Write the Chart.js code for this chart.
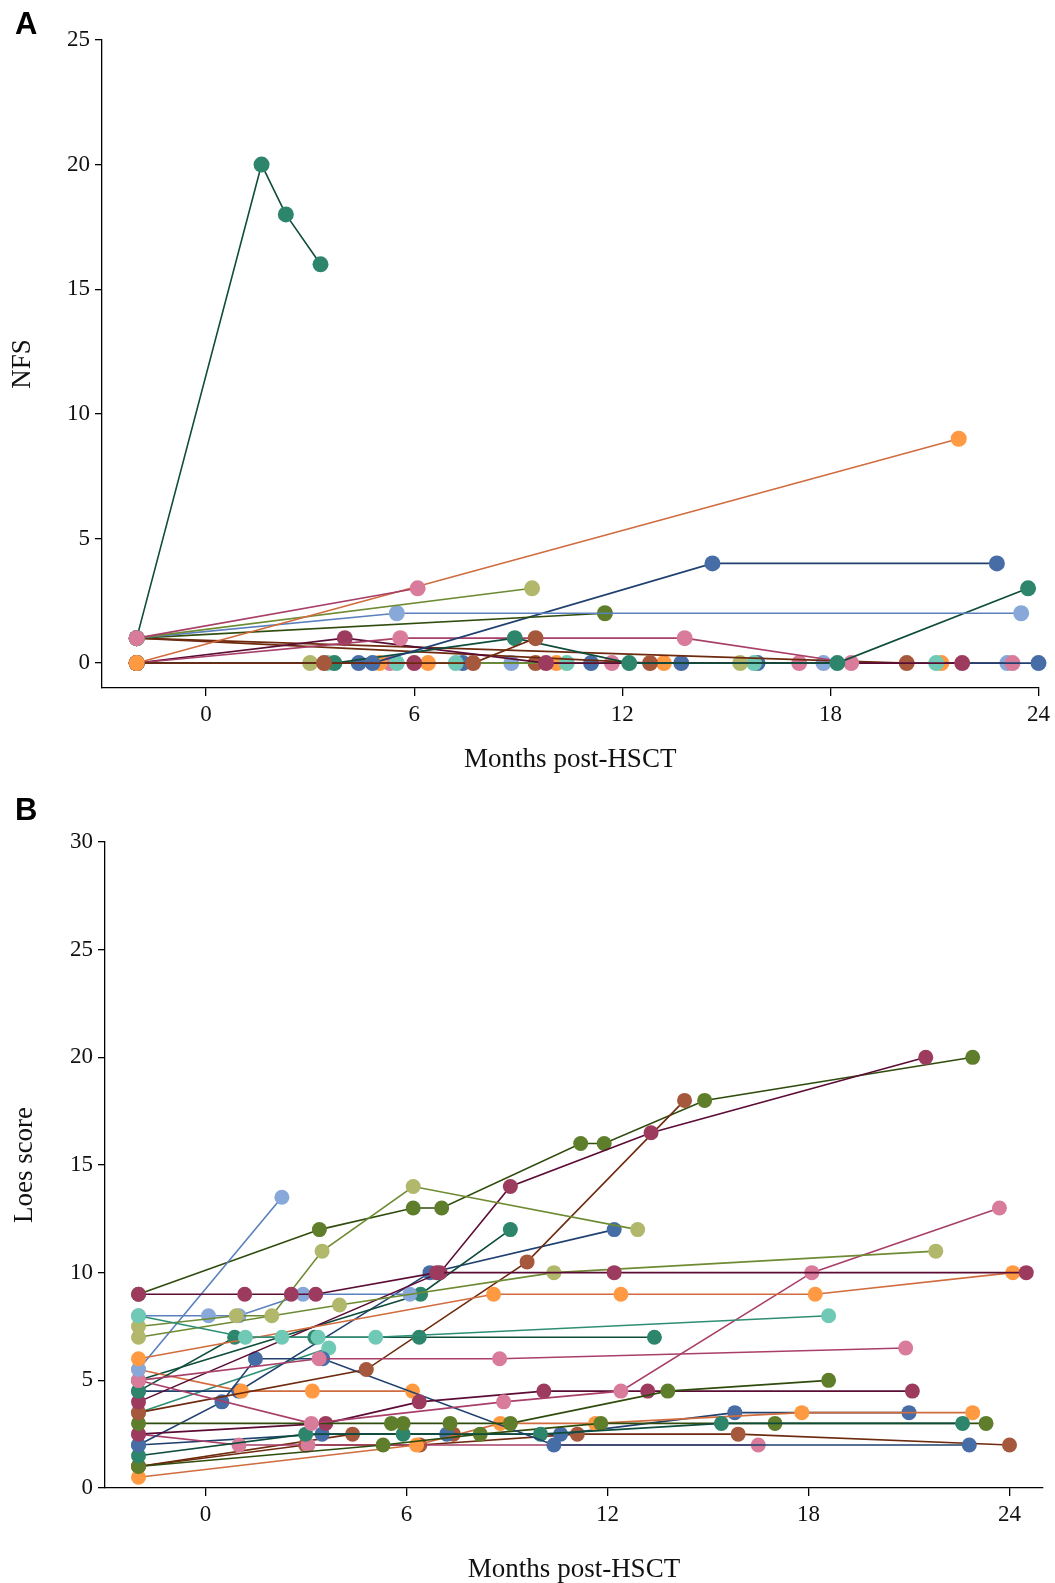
<!DOCTYPE html>
<html>
<head>
<meta charset="utf-8">
<title>NFS and Loes score after HSCT</title>
<script src="https://cdn.jsdelivr.net/npm/chart.js"></script>
<style>
  html, body { margin: 0; padding: 0; background: #fff; overflow: hidden; }
  .panel { position: absolute; left: 0; width: 1055px; }
</style>
</head>
<body>

<div class="panel" style="top:0;height:790px"><canvas id="nfsChart" width="1055" height="790"></canvas></div>
<div class="panel" style="top:790px;height:810px"><canvas id="loesChart" width="1055" height="810"></canvas></div>

<script>
    // tick labels
    const monthTicks = [0, 6, 12, 18, 24];
    const nfsTicks = [0, 5, 10, 15, 20, 25];
    const loesTicks = [0, 5, 10, 15, 20, 25, 30];

    // panel A (NFS), one entry per patient; first entry is drawn on top
    const nfsColors = ['pink', 'orange', 'brown', 'tealDark', 'lightOlive', 'lightBlue', 'olive', 'darkBlue',
        'tealDark', 'pink', 'maroon', 'brown', 'brown', 'maroon', 'lightOlive', 'tealLight',
        'darkBlue', 'orange', 'pink', 'lightBlue', 'brown'];
    const nfsMonths = [
        [-2, 6.1],
        [-2, 21.7],
        [-2, 3.4, 7.7, 9.5],
        [-2, 1.6, 2.3, 3.3],
        [-2, 9.4],
        [-2, 5.5, 23.5],
        [-2, 11.5],
        [-2, 4.8, 14.6, 22.8],
        [-2, 3.7, 8.9, 12.2, 18.2, 23.7],
        [-2, 5.6, 13.8, 18.6],
        [-2, 4.0, 9.8, 21.8],
        [-2, 12.8],
        [-2, 20.2],
        [-2, 6.0],
        [-2, 3.0, 15.4],
        [-2, 3.5, 5.5, 7.2, 10.4, 15.8, 21.05],
        [-2, 4.4, 7.4, 11.1, 13.7, 15.9, 24.0],
        [-2, 5.0, 6.4, 10.1, 13.2, 21.2],
        [-2, 5.3, 11.7, 17.1, 23.25],
        [-2, 8.8, 17.8, 23.1],
        [-2, 9.5]
    ];
    const nfsScores = [
        [1, 3],
        [0, 9],
        [0, 0, 0, 1],
        [1, 20, 18, 16],
        [1, 3],
        [1, 2, 2],
        [1, 2],
        [0, 0, 4, 4],
        [0, 0, 1, 0, 0, 3],
        [0, 1, 1, 0],
        [0, 1, 0, 0],
        [1, 0],
        [1, 0],
        [0, 0],
        [0, 0, 0],
        [0, 0, 0, 0, 0, 0, 0],
        [0, 0, 0, 0, 0, 0, 0],
        [0, 0, 0, 0, 0, 0],
        [0, 0, 0, 0, 0],
        [0, 0, 0, 0],
        [0, 0]
    ];

    // panel B (Loes score)
    const loesColors = ['maroon', 'tealLight', 'lightOlive', 'lightOlive', 'orange', 'lightBlue', 'pink', 'pink',
        'tealDark', 'maroon', 'brown', 'olive', 'maroon', 'darkBlue', 'tealDark', 'olive', 'orange',
        'olive', 'lightBlue', 'orange', 'tealDark', 'darkBlue', 'tealLight', 'pink', 'darkBlue', 'brown', 'brown'];
    const loesMonths = [
        [-2, 1.17, 2.56, 3.29, 6.9, 12.2, 24.5],
        [-2, 1.19, 2.28, 3.36, 5.08, 18.6],
        [-2, 0.92, 1.98, 3.48, 6.2, 12.9],
        [-2, 4.0, 10.4, 21.8],
        [-2, 8.6, 12.4, 18.2, 24.1],
        [-2, 2.28],
        [-2, 3.16, 8.9, 12.4, 18.1, 23.7],
        [-2, 3.39, 8.78, 20.9],
        [-2, 0.87, 3.26, 6.38, 13.4],
        [-2, 7.0, 9.1, 13.3, 21.5],
        [-2, 4.8, 9.6, 14.3],
        [-2, 5.55, 5.9, 7.3, 9.1, 13.8, 18.6],
        [-2, 3.59, 6.38, 10.1, 13.2, 21.1],
        [-2, 0.49, 1.49, 3.5, 10.4, 22.8],
        [-2, 2.99, 5.9, 10.0, 15.4, 22.6],
        [-2, 5.3, 8.2, 11.8, 17.0, 23.3],
        [-2, 6.3, 8.8, 11.64, 17.8, 22.9],
        [-2, 3.4, 6.2, 7.05, 11.2, 11.9, 14.9, 22.9],
        [-2, 0.09, 1.0, 2.91, 6.1],
        [-2, 1.07, 3.19, 6.18],
        [-2, 6.42, 9.1],
        [-2, 0.99, 6.7, 12.2],
        [-2, 3.68],
        [-2, 1.0, 3.06, 16.5],
        [-2, 3.48, 7.2, 10.6, 15.8, 21.0],
        [-2, 2.99, 6.4, 11.1, 15.9, 24.0],
        [-2, 4.39, 7.4]
    ];
    const loesScores = [
        [9, 9, 9, 9, 10, 10, 10],
        [8, 7, 7, 7, 7, 8],
        [7.5, 8, 8, 11, 14, 12],
        [7, 8.5, 10, 11],
        [6, 9, 9, 9, 10],
        [5.5, 13.5],
        [5, 3, 4, 4.5, 10, 13],
        [5, 6, 6, 6.5],
        [4.5, 7, 7, 7, 7],
        [4, 10, 14, 16.5, 20],
        [3.5, 5.5, 10.5, 18],
        [3, 3, 3, 3, 3, 4.5, 5],
        [2.5, 3, 4, 4.5, 4.5, 4.5],
        [2, 4, 6, 6, 2, 2],
        [1.5, 2.5, 2.5, 2.5, 3, 3],
        [1, 2, 2.5, 3, 3, 3],
        [0.5, 2, 3, 3, 3.5, 3.5],
        [9, 12, 13, 13, 16, 16, 18, 20],
        [8, 8, 8, 9, 9],
        [5.5, 4.5, 4.5, 4.5],
        [5, 9, 12],
        [4.5, 4.5, 10, 12],
        [3.5, 6.5],
        [2.5, 2, 2, 2],
        [2, 2.5, 2.5, 2.5, 3.5, 3.5],
        [1, 2, 2, 2.5, 2.5, 2],
        [1, 2.5, 2.5]
    ];

    const palette = {
        tealDark:   { point: '#2d856b', line: '#0e4c3b' },
        orange:     { point: '#ff9a42', line: '#d06c3e' },
        pink:       { point: '#d97b9a', line: '#a83f68' },
        lightOlive: { point: '#b1b86c', line: '#6e8b33' },
        lightBlue:  { point: '#87a8d9', line: '#5a80bd' },
        olive:      { point: '#5f7e2b', line: '#2f4c0d' },
        darkBlue:   { point: '#466da6', line: '#20416f' },
        brown:      { point: '#a5583b', line: '#6e2a0e' },
        maroon:     { point: '#9d3b5f', line: '#5b0c35' },
        tealLight:  { point: '#6fc9b4', line: '#2e8e73' }
    };

    const serif = "'Liberation Serif', 'Times New Roman', serif";

    const panelLetter = {
        id: 'panelLetter',
        afterDraw(chart, args, opts) {
            const ctx = chart.ctx;
            ctx.save();
            ctx.font = "bold 31px 'Liberation Sans', Arial, sans-serif";
            ctx.fillStyle = '#000';
            ctx.textBaseline = 'alphabetic';
            ctx.fillText(opts.text, opts.x, opts.y);
            ctx.restore();
        }
    };

    function buildDatasets(colors, months, scores, radius) {
        return colors.map((c, i) => ({
            data: months[i].map((m, j) => ({ x: m, y: scores[i][j] })),
            showLine: true,
            borderColor: palette[c].line,
            borderWidth: 1.6,
            pointRadius: radius,
            pointHoverRadius: radius,
            pointBackgroundColor: palette[c].point,
            pointBorderWidth: 0,
            clip: false
        }));
    }

    function makeChart(id, cfg) {
        new Chart(document.getElementById(id), {
            type: 'scatter',
            data: { datasets: buildDatasets(cfg.colors, cfg.months, cfg.scores, cfg.radius) },
            plugins: [panelLetter],
            options: {
                responsive: false,
                animation: false,
                events: [],
                layout: { padding: cfg.padding },
                plugins: {
                    legend: { display: false },
                    tooltip: { enabled: false },
                    panelLetter: cfg.letter
                },
                scales: {
                    x: {
                        type: 'linear',
                        min: -3,
                        max: cfg.xMax,
                        afterBuildTicks: s => { s.ticks = monthTicks.map(v => ({ value: v })); },
                        afterFit: s => { s.height = cfg.xHeight; },
                        grid: { drawOnChartArea: false, drawTicks: true, tickLength: 8, color: '#000', lineWidth: 1.3 },
                        border: { display: true, color: '#000', width: 1.3 },
                        ticks: { font: { family: serif, size: 23 }, color: '#111', padding: 5, maxRotation: 0, autoSkip: false },
                        title: { display: true, text: 'Months post-HSCT', color: '#111',
                                 font: { family: serif, size: 27 }, padding: { top: 0, bottom: 14 } }
                    },
                    y: {
                        type: 'linear',
                        min: cfg.yMin,
                        max: cfg.yMax,
                        afterBuildTicks: s => { s.ticks = cfg.yTicks.map(v => ({ value: v })); },
                        afterFit: s => { s.width = cfg.yWidth; },
                        grid: { drawOnChartArea: false, drawTicks: true, tickLength: 7, color: '#000', lineWidth: 1.3 },
                        border: { display: true, color: '#000', width: 1.3 },
                        ticks: { font: { family: serif, size: 23 }, color: '#111', padding: 5, autoSkip: false },
                        title: { display: true, text: cfg.yTitle, color: '#111',
                                 font: { family: serif, size: 27 }, padding: { top: cfg.yTitlePad, bottom: 0 } }
                    }
                }
            }
        });
    }

    makeChart('nfsChart', {
        colors: nfsColors, months: nfsMonths, scores: nfsScores, radius: 8,
        xMax: 24, yMin: -1, yMax: 25, yTicks: nfsTicks, yTitle: 'NFS', yTitlePad: 7,
        xHeight: 102, yWidth: 102,
        padding: { left: 0, top: 40, right: 16, bottom: 0 },
        letter: { text: 'A', x: 15, y: 34 }
    });

    makeChart('loesChart', {
        colors: loesColors, months: loesMonths, scores: loesScores, radius: 7.5,
        xMax: 25, yMin: 0, yMax: 30, yTicks: loesTicks, yTitle: 'Loes score', yTitlePad: 9,
        xHeight: 112, yWidth: 105,
        padding: { left: 0, top: 52, right: 12, bottom: 0 },
        letter: { text: 'B', x: 15, y: 30 }
    });
</script>
</body>
</html>
